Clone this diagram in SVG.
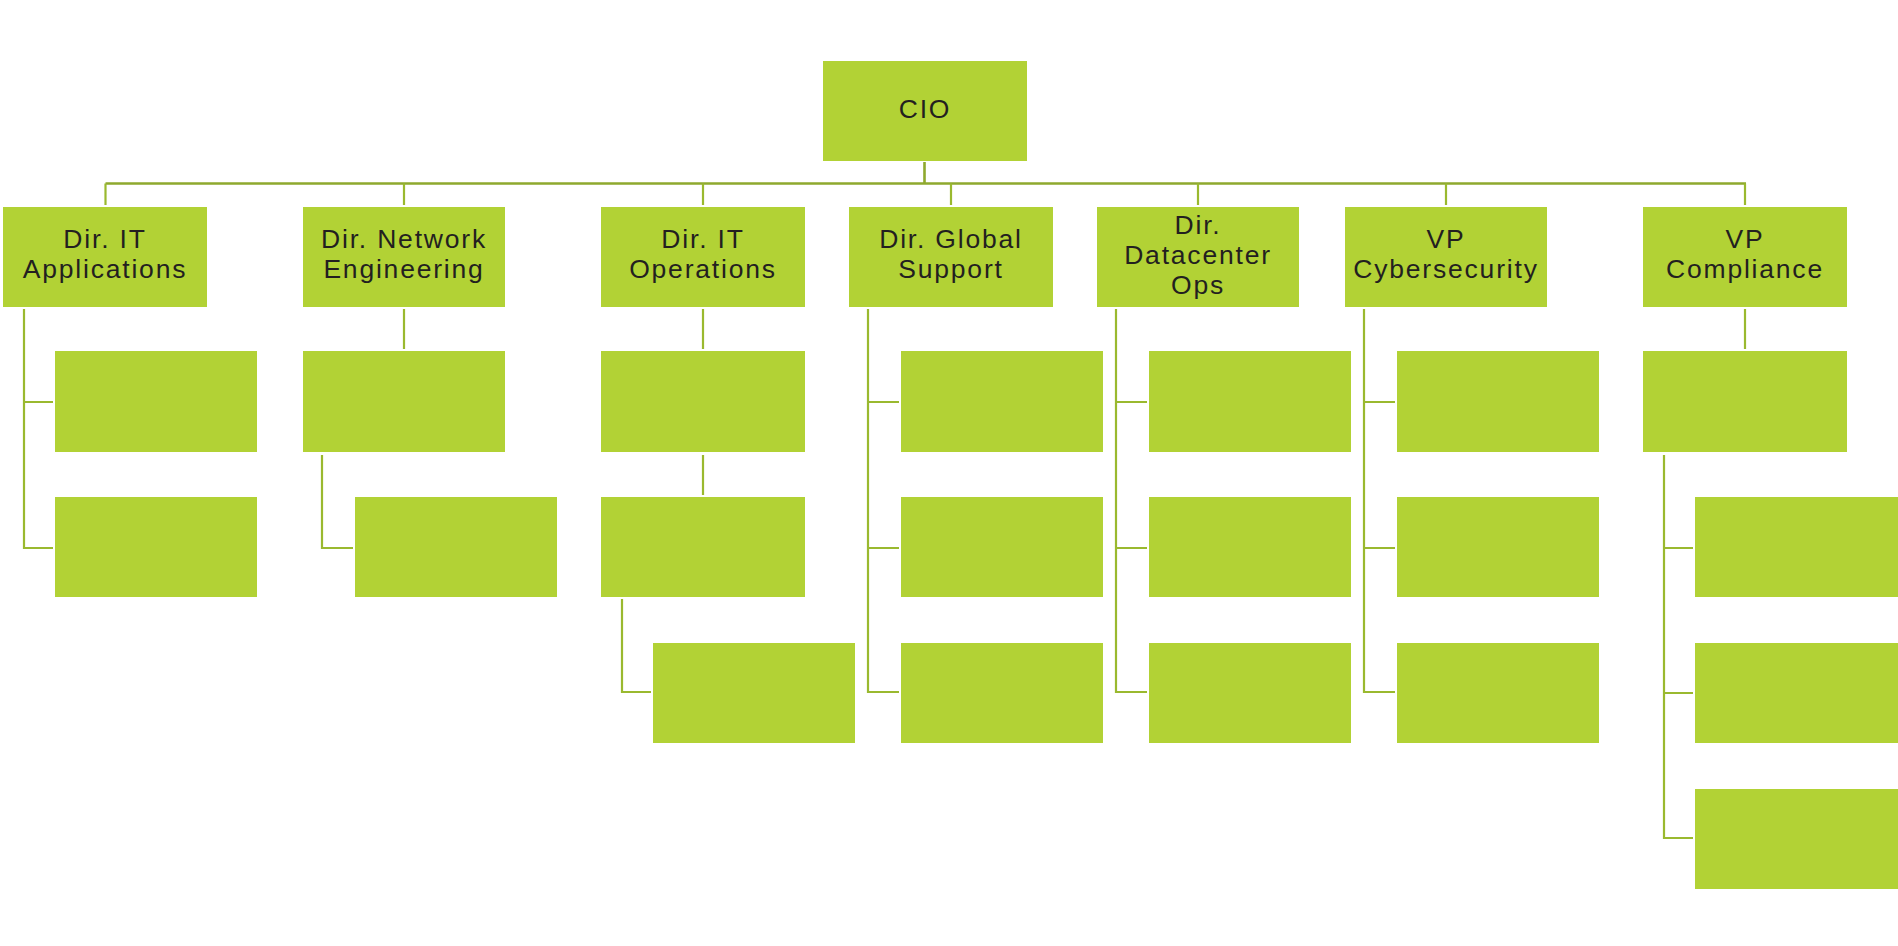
<svg xmlns="http://www.w3.org/2000/svg" width="1898" height="946" viewBox="0 0 1898 946">
<style>
.box{fill:#b2d235}
.lbl{font-family:"Liberation Sans",Arial,sans-serif;font-size:26.5px;fill:#231f20;text-anchor:middle;letter-spacing:1.8px}
.ln{stroke:#9ab92f;stroke-width:2.2;fill:none}
.bus{stroke:#8fa92e;stroke-width:2.6;fill:none}
</style>
<rect width="1898" height="946" fill="#ffffff"/>
<g id="connectors">
<path class="bus" d="M924.5,162 V183.5 M105.5,183.5 H1746"/>
<path class="ln" d="M105.5,183.5 V205 M404,183.5 V205 M703,183.5 V205 M951,183.5 V205 M1198,183.5 V205 M1446,183.5 V205 M1745,183.5 V205"/>
<path class="ln" d="M24,309 V548 H53 M24,402 H53"/>
<path class="ln" d="M404,309 V349 M322,455 V548 H353"/>
<path class="ln" d="M703,309 V349 M703,455 V495 M622,599 V692 H651"/>
<path class="ln" d="M868,309 V692 H899 M868,402 H899 M868,548 H899"/>
<path class="ln" d="M1116,309 V692 H1147 M1116,402 H1147 M1116,548 H1147"/>
<path class="ln" d="M1364,309 V692 H1395 M1364,402 H1395 M1364,548 H1395"/>
<path class="ln" d="M1745,309 V349 M1664,455 V838 H1693 M1664,548 H1693 M1664,693 H1693"/>
</g>
<g id="cio"><rect class="box" x="823" y="61" width="204" height="100"/><text class="lbl" x="925" y="118">CIO</text></g>
<g id="dir-it-applications"><rect class="box" x="3" y="207" width="204" height="100"/><text class="lbl" x="105" y="248">Dir. IT</text><text class="lbl" x="105" y="278">Applications</text></g>
<g id="dir-network-engineering"><rect class="box" x="303" y="207" width="202" height="100"/><text class="lbl" x="404" y="248">Dir. Network</text><text class="lbl" x="404" y="278">Engineering</text></g>
<g id="dir-it-operations"><rect class="box" x="601" y="207" width="204" height="100"/><text class="lbl" x="703" y="248">Dir. IT</text><text class="lbl" x="703" y="278">Operations</text></g>
<g id="dir-global-support"><rect class="box" x="849" y="207" width="204" height="100"/><text class="lbl" x="951" y="248">Dir. Global</text><text class="lbl" x="951" y="278">Support</text></g>
<g id="dir-datacenter-ops"><rect class="box" x="1097" y="207" width="202" height="100"/><text class="lbl" x="1198" y="234">Dir.</text><text class="lbl" x="1198" y="264">Datacenter</text><text class="lbl" x="1198" y="294">Ops</text></g>
<g id="vp-cybersecurity"><rect class="box" x="1345" y="207" width="202" height="100"/><text class="lbl" x="1446" y="248">VP</text><text class="lbl" x="1446" y="278">Cybersecurity</text></g>
<g id="vp-compliance"><rect class="box" x="1643" y="207" width="204" height="100"/><text class="lbl" x="1745" y="248">VP</text><text class="lbl" x="1745" y="278">Compliance</text></g>
<g id="c1-1"><rect class="box" x="55" y="351" width="202" height="101"/></g>
<g id="c1-2"><rect class="box" x="55" y="497" width="202" height="100"/></g>
<g id="c2-1"><rect class="box" x="303" y="351" width="202" height="101"/></g>
<g id="c2-2"><rect class="box" x="355" y="497" width="202" height="100"/></g>
<g id="c3-1"><rect class="box" x="601" y="351" width="204" height="101"/></g>
<g id="c3-2"><rect class="box" x="601" y="497" width="204" height="100"/></g>
<g id="c3-3"><rect class="box" x="653" y="643" width="202" height="100"/></g>
<g id="c4-1"><rect class="box" x="901" y="351" width="202" height="101"/></g>
<g id="c4-2"><rect class="box" x="901" y="497" width="202" height="100"/></g>
<g id="c4-3"><rect class="box" x="901" y="643" width="202" height="100"/></g>
<g id="c5-1"><rect class="box" x="1149" y="351" width="202" height="101"/></g>
<g id="c5-2"><rect class="box" x="1149" y="497" width="202" height="100"/></g>
<g id="c5-3"><rect class="box" x="1149" y="643" width="202" height="100"/></g>
<g id="c6-1"><rect class="box" x="1397" y="351" width="202" height="101"/></g>
<g id="c6-2"><rect class="box" x="1397" y="497" width="202" height="100"/></g>
<g id="c6-3"><rect class="box" x="1397" y="643" width="202" height="100"/></g>
<g id="c7-1"><rect class="box" x="1643" y="351" width="204" height="101"/></g>
<g id="c7-2"><rect class="box" x="1695" y="497" width="203" height="100"/></g>
<g id="c7-3"><rect class="box" x="1695" y="643" width="203" height="100"/></g>
<g id="c7-4"><rect class="box" x="1695" y="789" width="203" height="100"/></g>
</svg>
